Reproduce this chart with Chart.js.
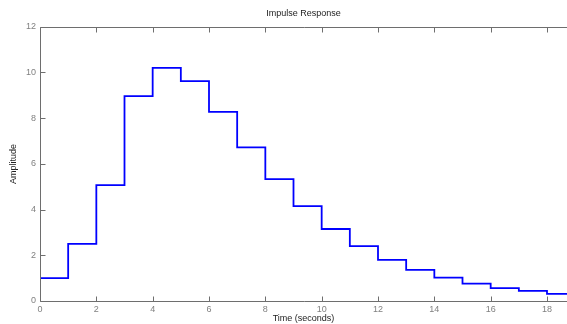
<!DOCTYPE html>
<html>
<head>
<meta charset="utf-8">
<script src="https://cdn.jsdelivr.net/npm/chart.js@4/dist/chart.umd.min.js"></script>
<style>
html,body{margin:0;padding:0;background:#fff;}
#wrap{width:567px;height:324px;position:relative;}
</style>
</head>
<body>
<div id="wrap"><canvas id="c" width="567" height="324"></canvas></div>
<script>
// Data (zero-order-hold impulse response)
const times = [0,1,2,3,4,5,6,7,8,9,10,11,12,13,14,15,16,17,18,19];
const amplitude = [1.0,2.50,5.07,8.97,10.2,9.62,8.28,6.72,5.33,4.15,3.15,2.40,1.80,1.36,1.02,0.76,0.56,0.44,0.31,0.22];
const xTicks = [0,2,4,6,8,10,12,14,16,18];
const yTicks = [0,2,4,6,8,10,12];
const titleText = 'Impulse Response';
const xTitle = 'Time (seconds)';
const yTitle = 'Amplitude';

const points = times.map((t,i)=>({x:t,y:amplitude[i]}));
const FONT = 'Liberation Sans, Arial, Helvetica, sans-serif';
const AXIS = '#6e6e6e';

const frame = {
  id:'frame',
  afterDraw(chart){
    const {ctx, chartArea:a, scales:{x,y}} = chart;
    ctx.save();
    ctx.strokeStyle = AXIS;
    ctx.lineWidth = 1;
    ctx.beginPath();
    const L = Math.round(a.left)+0.5, T = Math.round(a.top)+0.5, B = Math.round(a.bottom)+0.5, R = a.right+1;
    ctx.moveTo(R,T); ctx.lineTo(L,T); ctx.lineTo(L,B); ctx.lineTo(R,B);
    xTicks.forEach(v=>{
      const px = Math.round(x.getPixelForValue(v))+0.5;
      ctx.moveTo(px,B); ctx.lineTo(px,B-5);
      ctx.moveTo(px,T); ctx.lineTo(px,T+5);
    });
    yTicks.forEach(v=>{
      const py = Math.round(y.getPixelForValue(v))+0.5;
      ctx.moveTo(L,py); ctx.lineTo(L+5,py);
    });
    ctx.stroke();
    ctx.restore();
  }
};

new Chart(document.getElementById('c'), {
  type:'line',
  data:{datasets:[{
    data:points,
    borderColor:'#0000ff',
    borderWidth:1.8,
    pointRadius:0,
    stepped:'before',
    fill:false,
    tension:0
  }]},
  options:{
    responsive:false,
    animation:false,
    layout:{padding:{top:0,left:0,right:0,bottom:0}},
    plugins:{
      legend:{display:false},
      tooltip:{enabled:false},
      title:{
        display:true,
        text:titleText,
        fullSize:false,
        color:'#222',
        font:{family:FONT,size:9,weight:'normal'},
        padding:{top:8,bottom:8}
      }
    },
    scales:{
      x:{
        type:'linear',
        min:0,
        max:18.71,
        afterBuildTicks(s){ s.ticks = xTicks.map(v=>({value:v})); },
        afterFit(s){ s.height = 23; },
        grid:{display:false, drawTicks:false},
        border:{display:false},
        ticks:{color:'#808080',font:{family:FONT,size:9},padding:3,maxRotation:0,autoSkip:false,includeBounds:false},
        title:{display:true,text:xTitle,color:'#222',font:{family:FONT,size:9},padding:{top:0,bottom:0}}
      },
      y:{
        type:'linear',
        min:0,
        max:12,
        afterBuildTicks(s){ s.ticks = yTicks.map(v=>({value:v})); },
        afterFit(s){ s.width = 40; },
        grid:{display:false, drawTicks:false},
        border:{display:false},
        ticks:{color:'#808080',font:{family:FONT,size:9},padding:4,autoSkip:false},
        title:{display:true,text:yTitle,color:'#222',font:{family:FONT,size:9},padding:{top:8,bottom:0}}
      }
    }
  },
  plugins:[frame]
});
</script>
</body>
</html>
